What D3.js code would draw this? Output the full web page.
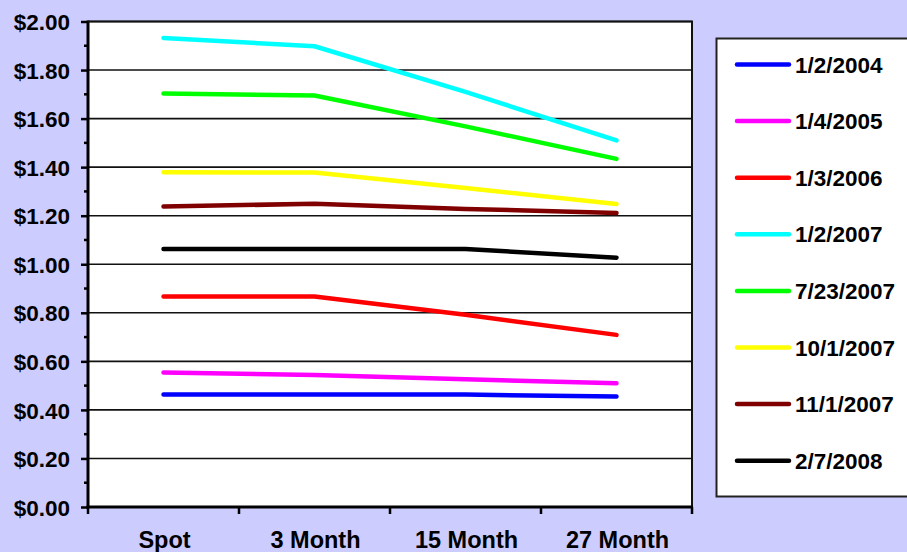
<!DOCTYPE html>
<html>
<head>
<meta charset="utf-8">
<script src="https://cdn.jsdelivr.net/npm/d3@7"></script>
<style>
  html, body { margin: 0; padding: 0; background: #ccccff; }
  svg { display: block; }
  text { font-family: "Liberation Sans", Arial, sans-serif; font-weight: bold; fill: #000; }
</style>
</head>
<body>
<svg id="chart" width="907" height="552"></svg>
<script>
// Forward price curve by quote date
const categories = ["Spot", "3 Month", "15 Month", "27 Month"];
const seriesNames = ["1/2/2004", "1/4/2005", "1/3/2006", "1/2/2007", "7/23/2007", "10/1/2007", "11/1/2007", "2/7/2008"];
const seriesColors = ["#0000ff", "#ff00ff", "#ff0000", "#00ffff", "#00ff00", "#ffff00", "#800000", "#000000"];
const v_2004_01_02 = [0.463, 0.463, 0.463, 0.455];
const v_2005_01_04 = [0.554, 0.544, 0.526, 0.510];
const v_2006_01_03 = [0.867, 0.867, 0.792, 0.709];
const v_2007_01_02 = [1.932, 1.898, 1.710, 1.510];
const v_2007_07_23 = [1.703, 1.695, 1.568, 1.434];
const v_2007_10_01 = [1.379, 1.378, 1.314, 1.248];
const v_2007_11_01 = [1.238, 1.249, 1.228, 1.211];
const v_2008_02_07 = [1.063, 1.063, 1.063, 1.027];
const seriesValues = [v_2004_01_02, v_2005_01_04, v_2006_01_03, v_2007_01_02, v_2007_07_23, v_2007_10_01, v_2007_11_01, v_2008_02_07];
const yTicks = [0, 0.2, 0.4, 0.6, 0.8, 1.0, 1.2, 1.4, 1.6, 1.8, 2.0];

const svg = d3.select("#chart");
const plot = { left: 88, right: 692, top: 21.5, bottom: 507 };

const x = d3.scaleBand().domain(categories).range([plot.left, plot.right]).padding(0);
const y = d3.scaleLinear().domain([0, 2]).range([plot.bottom, plot.top]);

// Plot area
svg.append("rect")
  .attr("x", plot.left).attr("y", plot.top)
  .attr("width", plot.right - plot.left).attr("height", plot.bottom - plot.top)
  .attr("fill", "#fff");

// Horizontal gridlines
svg.append("g").selectAll("line")
  .data(yTicks.filter(d => d > 0))
  .join("line")
  .attr("x1", plot.left).attr("x2", plot.right)
  .attr("y1", d => y(d)).attr("y2", d => y(d))
  .attr("stroke", "#111").attr("stroke-width", 1.6);

// Right border of plot area
svg.append("line")
  .attr("x1", plot.right).attr("x2", plot.right)
  .attr("y1", plot.top).attr("y2", plot.bottom)
  .attr("stroke", "#111").attr("stroke-width", 2);

// Series lines
const line = d3.line()
  .x((d, i) => x(categories[i]) + x.bandwidth() / 2)
  .y(d => y(d));

svg.append("g").selectAll("path")
  .data(seriesValues)
  .join("path")
  .attr("d", d => line(d))
  .attr("fill", "none")
  .attr("stroke", (d, i) => seriesColors[i])
  .attr("stroke-width", 4.5)
  .attr("stroke-linecap", "round")
  .attr("stroke-linejoin", "round");

// Y axis with major labels and minor ticks
const yAxis = d3.axisLeft(y)
  .tickValues(yTicks)
  .tickSize(7)
  .tickPadding(11)
  .tickFormat(d => "$" + d.toFixed(2));
const gy = svg.append("g").attr("transform", `translate(${plot.left},0)`).call(yAxis);
gy.select(".domain").remove();
gy.selectAll(".tick line").attr("stroke", "#000").attr("stroke-width", 2.5);
gy.selectAll(".tick text").style("font-size", "22.5px").attr("dy", "0.36em");

const minor = d3.range(0, 10).map(i => 0.1 + i * 0.2);
svg.append("g").selectAll("line")
  .data(minor)
  .join("line")
  .attr("x1", plot.left - 4).attr("x2", plot.left)
  .attr("y1", d => y(d)).attr("y2", d => y(d))
  .attr("stroke", "#000").attr("stroke-width", 2.5);

svg.append("line")
  .attr("x1", plot.left).attr("x2", plot.left)
  .attr("y1", plot.top - 1).attr("y2", plot.bottom + 1.5)
  .attr("stroke", "#000").attr("stroke-width", 3);

// X axis: ticks at category boundaries, labels centered
const boundaries = categories.map(c => x(c)).concat([plot.right]);
svg.append("g").selectAll("line")
  .data(boundaries)
  .join("line")
  .attr("x1", d => d).attr("x2", d => d)
  .attr("y1", plot.bottom).attr("y2", plot.bottom + 7)
  .attr("stroke", "#000").attr("stroke-width", 2.5);

svg.append("line")
  .attr("x1", plot.left - 1.5).attr("x2", plot.right + 1)
  .attr("y1", plot.bottom).attr("y2", plot.bottom)
  .attr("stroke", "#000").attr("stroke-width", 3);

// Top border
svg.append("line")
  .attr("x1", plot.left).attr("x2", plot.right + 1)
  .attr("y1", plot.top).attr("y2", plot.top)
  .attr("stroke", "#111").attr("stroke-width", 1.8);

svg.append("g").selectAll("text")
  .data(categories)
  .join("text")
  .attr("x", d => x(d) + x.bandwidth() / 2 + 1)
  .attr("y", 548)
  .attr("text-anchor", "middle")
  .style("font-size", "23.5px")
  .text(d => d);

// Legend
const legend = svg.append("g");
legend.append("rect")
  .attr("x", 716.5).attr("y", 38.5)
  .attr("width", 200).attr("height", 458)
  .attr("fill", "#fff")
  .attr("stroke", "#222").attr("stroke-width", 2);

const item = legend.selectAll("g.item")
  .data(seriesNames)
  .join("g")
  .attr("class", "item")
  .attr("transform", (d, i) => `translate(0,${64.5 + i * 56.6})`);

item.append("line")
  .attr("x1", 737).attr("x2", 789)
  .attr("y1", 0).attr("y2", 0)
  .attr("stroke", (d, i) => seriesColors[i])
  .attr("stroke-width", 4.5)
  .attr("stroke-linecap", "round");

item.append("text")
  .attr("x", 795).attr("y", 0)
  .attr("dy", "0.36em")
  .style("font-size", "22.5px")
  .text(d => d);
</script>
</body>
</html>
